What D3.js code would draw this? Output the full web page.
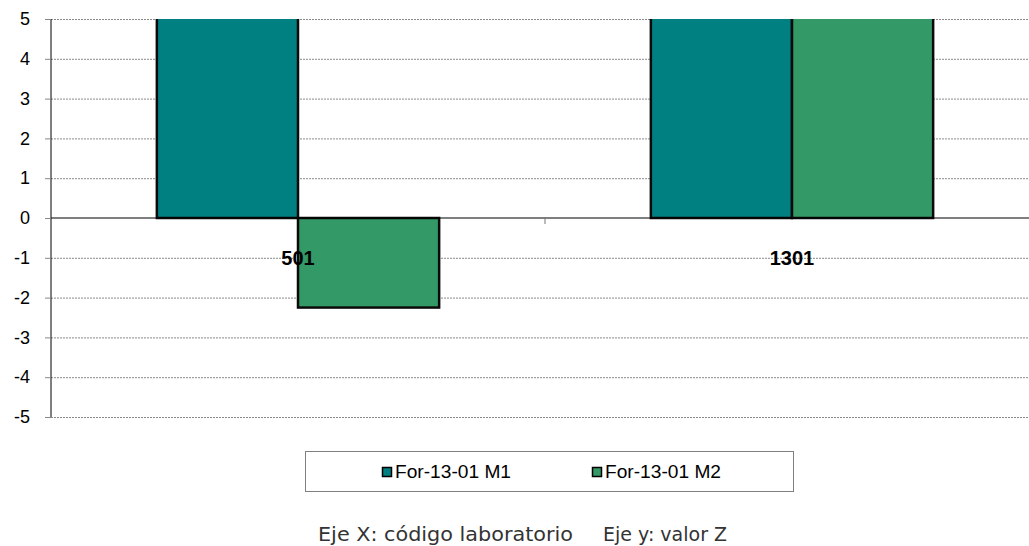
<!DOCTYPE html>
<html>
<head>
<meta charset="utf-8">
<script src="https://cdn.jsdelivr.net/npm/d3@7"></script>
<style>
  body { margin: 0; background: #fff; }
  svg { display: block; }
</style>
</head>
<body>
<script>
"use strict";

// data (bars above 5 are cut off by the axis)
var labs = ["501", "1301"];
var series = ["For-13-01 M1", "For-13-01 M2"];
var m1 = [6.5, 7.2];
var m2 = [-2.25, 6.8];
var yTicks = [-5, -4, -3, -2, -1, 0, 1, 2, 3, 4, 5];
var colors = ["#008080", "#339966"];

function init() {
    var w = 1029, h = 546;
    var left = 51, right = 1039, top = 19, bottom = 417;
    var font = "'Liberation Sans', Arial, sans-serif";

    var svg = d3.select("body").append("svg")
        .attr("width", w)
        .attr("height", h);

    var x0 = d3.scaleBand()
        .domain(labs)
        .range([left, right])
        .paddingInner(0)
        .paddingOuter(0);

    // gap width 150% of a bar
    var x1 = d3.scaleBand()
        .domain(series)
        .range([0, x0.bandwidth()])
        .paddingOuter(0.75)
        .paddingInner(0);

    var y = d3.scaleLinear()
        .domain([-5, 5])
        .range([bottom, top]);

    //grid lines
    svg.append("g")
        .selectAll("line")
        .data(yTicks.filter(function (d) { return d !== 0; }))
        .enter()
        .append("line")
        .attr("x1", left)
        .attr("x2", right)
        .attr("y1", function (d) { return y(d) + 0.5; })
        .attr("y2", function (d) { return y(d) + 0.5; })
        .attr("stroke", "#8a8a8a")
        .attr("stroke-width", 1)
        .attr("stroke-dasharray", "2,1");

    // clip bars at the plot top
    svg.append("clipPath").attr("id", "plotclip")
        .append("rect")
        .attr("x", left - 5).attr("y", top)
        .attr("width", right - left + 10).attr("height", bottom - top + 5);

    var rows = labs.map(function (l, i) {
        return { lab: l, vals: [m1[i], m2[i]] };
    });

    var groups = svg.append("g")
        .attr("clip-path", "url(#plotclip)")
        .selectAll("g")
        .data(rows)
        .enter()
        .append("g")
        .attr("transform", function (d) { return "translate(" + x0(d.lab) + ",0)"; });

    groups.selectAll("rect")
        .data(function (d) {
            return d.vals.map(function (v, j) { return { s: series[j], v: v, j: j }; });
        })
        .enter()
        .append("rect")
        .attr("x", function (d) { return x1(d.s); })
        .attr("y", function (d) { return Math.min(y(d.v), y(0)); })
        .attr("width", x1.bandwidth())
        .attr("height", function (d) { return Math.abs(y(d.v) - y(0)); })
        .attr("fill", function (d) { return colors[d.j]; })
        .attr("stroke", "#0a0a0a")
        .attr("stroke-width", 2.5);

    // zero line
    svg.append("line")
        .attr("x1", left).attr("x2", right)
        .attr("y1", y(0)).attr("y2", y(0))
        .attr("stroke", "#000").attr("stroke-width", 1.2);

    // category boundary tick
    svg.append("line")
        .attr("x1", x0("1301")).attr("x2", x0("1301"))
        .attr("y1", y(0)).attr("y2", y(0) + 6)
        .attr("stroke", "#777").attr("stroke-width", 1);

    // y axis
    var yAxis = d3.axisLeft(y)
        .tickValues(yTicks)
        .tickSize(6)
        .tickPadding(15)
        .tickFormat(function (d) { return String(d); });

    var ga = svg.append("g")
        .attr("transform", "translate(" + left + ",0)")
        .call(yAxis);
    ga.select(".domain").attr("stroke", "#000").attr("d", "M0," + top + "V" + bottom);
    ga.selectAll(".tick line").attr("stroke", "#888");
    ga.selectAll("text")
        .attr("font-family", font)
        .attr("font-size", 18)
        .attr("fill", "#000");

    // category labels
    svg.append("g")
        .selectAll("text")
        .data(labs)
        .enter()
        .append("text")
        .attr("x", function (d) { return x0(d) + x0.bandwidth() / 2; })
        .attr("y", y(-1) + 7)
        .attr("text-anchor", "middle")
        .attr("font-family", font)
        .attr("font-weight", "bold")
        .attr("font-size", 20)
        .attr("fill", "#000")
        .text(function (d) { return d; });

    // legend
    var lg = svg.append("g");
    lg.append("rect")
        .attr("x", 305.5).attr("y", 451.5)
        .attr("width", 488).attr("height", 40)
        .attr("fill", "#fff")
        .attr("stroke", "#808080");

    var lx = [382, 592];
    var items = lg.selectAll("g.item")
        .data(series)
        .enter()
        .append("g")
        .attr("class", "item")
        .attr("transform", function (d, i) { return "translate(" + lx[i] + ",467)"; });
    items.append("rect")
        .attr("x", 0.5).attr("y", 0.5)
        .attr("width", 9).attr("height", 9)
        .attr("fill", function (d, i) { return colors[i]; })
        .attr("stroke", "#000")
        .attr("stroke-width", 1.5);
    items.append("text")
        .attr("x", 13)
        .attr("y", 11)
        .attr("font-family", font)
        .attr("font-size", 18)
        .attr("textLength", 116)
        .attr("lengthAdjust", "spacingAndGlyphs")
        .attr("fill", "#000")
        .text(function (d) { return d; });

    // axis captions
    var caps = [
        { t: "Eje X: código laboratorio", x: 318, len: 255 },
        { t: "Eje y: valor Z", x: 603, len: 124 }
    ];
    svg.append("g")
        .selectAll("text")
        .data(caps)
        .enter()
        .append("text")
        .attr("x", function (d) { return d.x; })
        .attr("y", 541)
        .attr("font-family", "'DejaVu Sans', sans-serif")
        .attr("font-size", 20)
        .attr("textLength", function (d) { return d.len; })
        .attr("lengthAdjust", "spacingAndGlyphs")
        .attr("fill", "#333")
        .text(function (d) { return d.t; });
}

window.onload = init;
</script>
</body>
</html>
